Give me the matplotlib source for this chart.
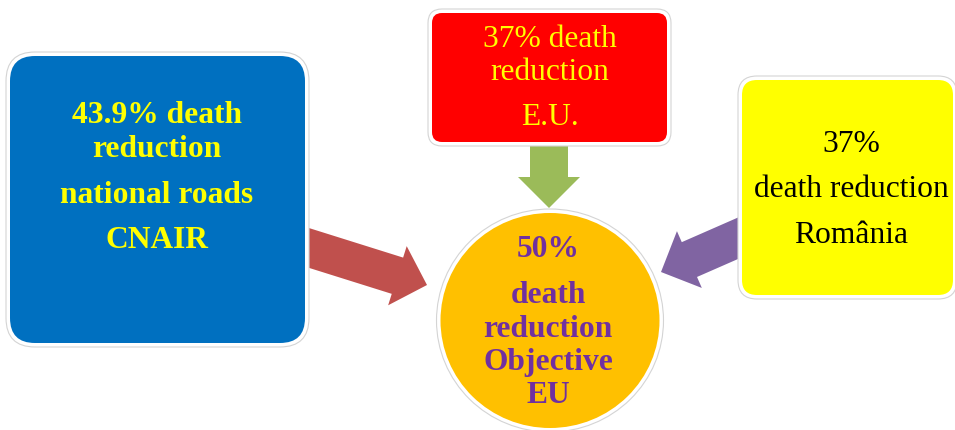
import matplotlib.pyplot as plt
from matplotlib.patches import FancyBboxPatch, Ellipse, FancyArrow

# text of each shape, one entry per line
blue_lines = ['43.9% death', 'reduction', 'national roads', 'CNAIR']
red_lines = ['37% death', 'reduction', 'E.U.']
yellow_lines = ['37%', 'death reduction', 'România']
circle_lines = ['50%', 'death', 'reduction', 'Objective', 'EU']

# baselines (pixels from top) for each line
blue_base = [123, 157, 203, 248]
red_base = [47, 80, 125]
yellow_base = [152, 197, 243]
circle_base = [257, 303, 337, 370, 403]

W, H = 955, 430
fig = plt.figure(figsize=(W / 100, H / 100), dpi=100)
ax = fig.add_axes([0, 0, 1, 1])
ax.set_xlim(0, W)
ax.set_ylim(H, 0)
ax.axis('off')

serif = ['Liberation Serif', 'DejaVu Serif']
fs = 22.7


def box(x0, y0, x1, y1, r, color):
    pad = 4
    ax.add_patch(FancyBboxPatch((x0 - pad, y0 - pad), x1 - x0 + 2 * pad, y1 - y0 + 2 * pad,
                                boxstyle='round,pad=0,rounding_size=%d' % (r + pad),
                                fc='white', ec='#d4d4d4', lw=0.8, zorder=3))
    ax.add_patch(FancyBboxPatch((x0, y0), x1 - x0, y1 - y0,
                                boxstyle='round,pad=0,rounding_size=%d' % r,
                                fc=color, ec='none', zorder=4))


def arrow(x0, y0, x1, y1, color):
    ax.add_patch(FancyArrow(x0, y0, x1 - x0, y1 - y0, width=38, head_width=62,
                            head_length=31, length_includes_head=True,
                            fc=color, ec='none', zorder=2))


# arrows (behind the shapes)
arrow(290, 242, 427, 285, '#C0504D')
arrow(549, 130, 549, 208, '#9BBB59')
arrow(750, 233, 661, 272, '#8064A2')

# shapes
box(10, 56, 305, 343, 25, '#0070C0')
box(432, 13, 667, 142, 10, '#FF0000')
box(742, 80, 953, 295, 15, '#FFFF00')
ax.add_patch(Ellipse((550, 320.5), 227, 223, fc='white', ec='#d4d4d4', lw=0.8, zorder=3))
ax.add_patch(Ellipse((550, 320.5), 219, 215, fc='#FFC000', ec='none', zorder=4))

# labels
for s, y in zip(blue_lines, blue_base):
    ax.text(157, y, s, ha='center', va='baseline', fontsize=fs, fontweight='bold',
            color='#FFFF00', family=serif, zorder=5)
for s, y in zip(red_lines, red_base):
    ax.text(550, y, s, ha='center', va='baseline', fontsize=fs,
            color='#FFFF00', family=serif, zorder=5)
for s, y in zip(yellow_lines, yellow_base):
    ax.text(851, y, s, ha='center', va='baseline', fontsize=fs,
            color='black', family=serif, zorder=5)
for s, y in zip(circle_lines, circle_base):
    ax.text(548, y, s, ha='center', va='baseline', fontsize=fs, fontweight='bold',
            color='#7030A0', family=serif, zorder=5)

fig.savefig('out.png', dpi=100)
